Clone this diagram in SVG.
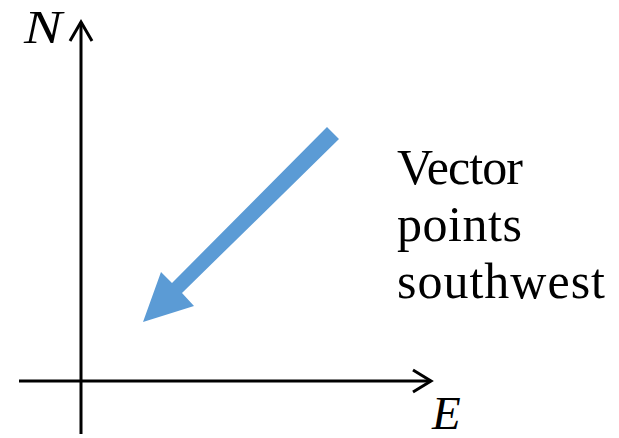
<svg xmlns="http://www.w3.org/2000/svg" width="619" height="438" viewBox="0 0 619 438">
<style>
.axis{stroke:#000;stroke-width:3;fill:none}
.lbl{font-family:"Liberation Serif","DejaVu Serif",serif;font-style:italic;font-size:47px;fill:#000}
.txt{font-family:"Liberation Serif","DejaVu Serif",serif;font-size:50px;fill:#000}
</style>
<rect width="619" height="438" fill="#fff"/>
<g id="connectors">
<line class="axis" x1="81" y1="434" x2="81" y2="22"/>
<polyline class="axis" points="70,41 81,22 92,41"/>
<line class="axis" x1="19" y1="381" x2="431" y2="381"/>
<polyline class="axis" points="413,370 431,381 413,392"/>
</g>
<g id="vector">
<polygon fill="#5B9BD5" points="327,127 339,139 182,293 194,306 143,322 161,272 172,283"/>
</g>
<g id="label-N"><text class="lbl" x="24" y="43" textLength="38" lengthAdjust="spacingAndGlyphs">N</text></g>
<g id="label-E"><text class="lbl" x="432" y="429">E</text></g>
<g id="caption">
<text class="txt" x="397" y="184" textLength="126">Vector</text>
<text class="txt" x="397" y="241" textLength="125">points</text>
<text class="txt" x="397" y="298" textLength="208">southwest</text>
</g>
</svg>
